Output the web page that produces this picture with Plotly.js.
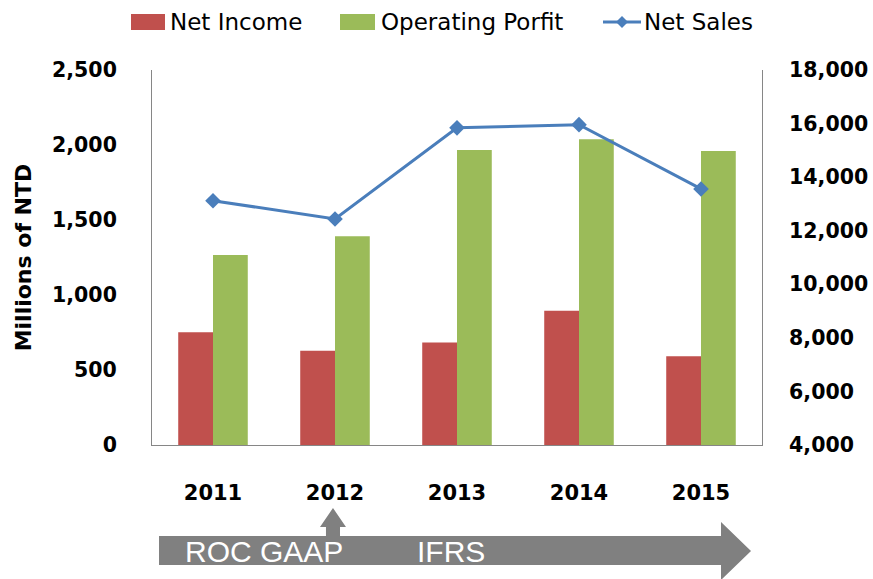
<!DOCTYPE html>
<html>
<head>
<meta charset="utf-8">
<script src="https://cdn.plot.ly/plotly-3.0.1.min.js"></script>
<style>
html,body{margin:0;padding:0;background:#fff;}
#chart{width:873px;height:579px;}
</style>
</head>
<body>
<div id="chart"></div>
<script>
const years = ['2011', '2012', '2013', '2014', '2015'];
const netIncome = [751, 629, 684, 895, 591];
const operatingProfit = [1267, 1391, 1967, 2038, 1960];
const netSales = [13120, 12440, 15840, 15960, 13560];
const seriesNames = ['Net Income', 'Operating Porfit', 'Net Sales'];
const seriesColors = ['#C0504D', '#9BBB59', '#4A7EBB'];
const leftTicks = [0, 500, 1000, 1500, 2000, 2500];
const rightTicks = [4000, 6000, 8000, 10000, 12000, 14000, 16000, 18000];
const standardLabels = ['ROC GAAP', 'IFRS'];

// plot area in pixels
const PL = 152, PR = 762, PT = 70, PB = 445;
const px = x => (x - PL) / (PR - PL);
const py = y => (PB - y) / (PB - PT);
const pathFrom = pts => 'M' + pts.map(p => px(p[0]).toFixed(4) + ',' + py(p[1]).toFixed(4)).join(' L') + ' Z';

const traces = [
  {type: 'bar', name: seriesNames[0], x: years, y: netIncome, marker: {color: seriesColors[0]}, showlegend: false},
  {type: 'bar', name: seriesNames[1], x: years, y: operatingProfit, marker: {color: seriesColors[1]}, showlegend: false},
  {type: 'scatter', mode: 'lines+markers', name: seriesNames[2], x: years, y: netSales, yaxis: 'y2',
   line: {color: seriesColors[2], width: 3}, marker: {symbol: 'diamond', size: 12, color: seriesColors[2]}, showlegend: false}
];

const gray = '#868686';

const shapes = [
  // timeline arrow
  {type: 'path', xref: 'paper', yref: 'paper', layer: 'above', line: {width: 0}, fillcolor: '#808080',
   path: pathFrom([[159,536],[721,536],[721,522],[751,551],[721,580],[721,565],[159,565]])},
  // small up arrow
  {type: 'path', xref: 'paper', yref: 'paper', layer: 'above', line: {width: 0}, fillcolor: '#808080',
   path: pathFrom([[326,537],[326,527],[320,527],[333,508],[346,527],[340,527],[340,537]])},
  // legend swatches
  {type: 'rect', xref: 'paper', yref: 'paper', line: {width: 0}, fillcolor: seriesColors[0],
   x0: px(131), x1: px(165), y0: py(30), y1: py(14)},
  {type: 'rect', xref: 'paper', yref: 'paper', line: {width: 0}, fillcolor: seriesColors[1],
   x0: px(340), x1: px(375), y0: py(30), y1: py(14)},
  {type: 'line', xref: 'paper', yref: 'paper', line: {width: 3, color: seriesColors[2]},
   x0: px(603), x1: px(641), y0: py(22), y1: py(22)},
  {type: 'path', xref: 'paper', yref: 'paper', line: {width: 0}, fillcolor: seriesColors[2],
   path: pathFrom([[622,16],[628,22],[622,28],[616,22]])}
];

const legendFont = {family: 'DejaVu Sans', size: 23, color: '#000'};
const annotations = [
  {xref: 'paper', yref: 'paper', x: px(168), y: py(22), xanchor: 'left', yanchor: 'middle', text: seriesNames[0], showarrow: false, font: legendFont},
  {xref: 'paper', yref: 'paper', x: px(379), y: py(22), xanchor: 'left', yanchor: 'middle', text: seriesNames[1], showarrow: false, font: legendFont},
  {xref: 'paper', yref: 'paper', x: px(642), y: py(22), xanchor: 'left', yanchor: 'middle', text: seriesNames[2], showarrow: false, font: legendFont},
  {xref: 'paper', yref: 'paper', x: px(264), y: py(551), xanchor: 'center', yanchor: 'middle', text: standardLabels[0], showarrow: false,
   font: {family: 'Liberation Sans', size: 30, color: '#fff'}},
  {xref: 'paper', yref: 'paper', x: px(451), y: py(551), xanchor: 'center', yanchor: 'middle', text: standardLabels[1], showarrow: false,
   font: {family: 'Liberation Sans', size: 30, color: '#fff'}}
];

const layout = {
  width: 873, height: 579,
  margin: {l: PL, r: 873 - PR, t: PT, b: 579 - PB, pad: 0},
  paper_bgcolor: '#fff', plot_bgcolor: '#fff',
  barmode: 'group', bargap: 0.43, bargroupgap: 0,
  showlegend: false,
  xaxis: {type: 'category', showline: true, linecolor: gray, linewidth: 1, showgrid: false, zeroline: false,
          ticks: '', tickfont: {family: 'DejaVu Sans', size: 21, color: '#000', weight: 'bold'}, ticklabelstandoff: 29, automargin: false},
  yaxis: {range: [0, 2500], tickvals: leftTicks, tickformat: ',d', showline: true, linecolor: gray, linewidth: 1,
          showgrid: false, zeroline: false, ticks: '', tickfont: {family: 'DejaVu Sans', size: 20.5, color: '#000', weight: 'bold'},
          ticklabelstandoff: 30, automargin: false,
          title: {text: 'Millions of NTD', font: {family: 'DejaVu Sans', size: 22, color: '#000', weight: 'bold'}, standoff: 14}},
  yaxis2: {range: [4000, 18000], tickvals: rightTicks, tickformat: ',d', overlaying: 'y', side: 'right', showline: true,
           linecolor: gray, linewidth: 1, showgrid: false, zeroline: false, ticks: '',
           tickfont: {family: 'DejaVu Sans', size: 20.5, color: '#000', weight: 'bold'}, ticklabelstandoff: 22, automargin: false},
  shapes: shapes,
  annotations: annotations
};

Plotly.newPlot('chart', traces, layout, {displayModeBar: false, staticPlot: true});
</script>
</body>
</html>
